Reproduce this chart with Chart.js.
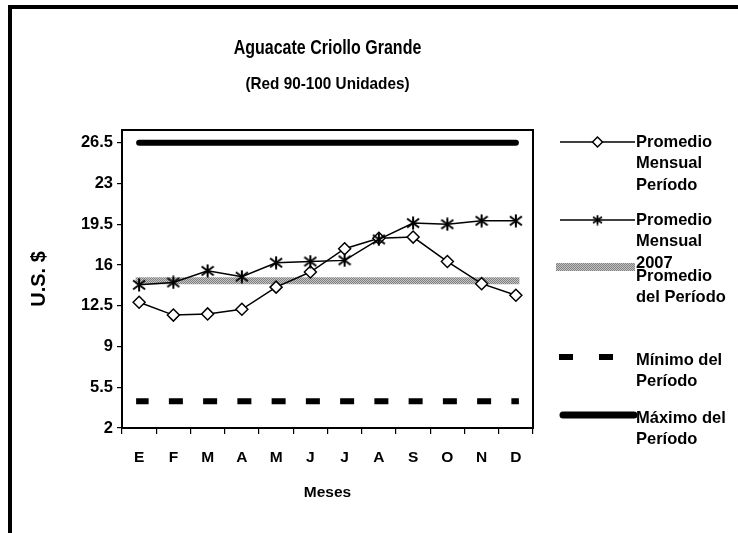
<!DOCTYPE html>
<html>
<head>
<meta charset="utf-8">
<script src="https://cdn.jsdelivr.net/npm/chart.js@4.4.0/dist/chart.umd.min.js"></script>
<style>
  html, body { margin: 0; padding: 0; background: #fff; }
  #wrap { position: absolute; left: 0; top: 0; width: 738px; height: 533px; }
  #frame { position: absolute; left: 8px; top: 5px; width: 730px; height: 528px;
           border-top: 4px solid #000; border-left: 4px solid #000; box-sizing: border-box; pointer-events: none; }
</style>
</head>
<body>
<div id="wrap"><canvas id="chart" width="738" height="533"></canvas></div>
<div id="frame"></div>
<script>
// datos
var meses = ['E', 'F', 'M', 'A', 'M', 'J', 'J', 'A', 'S', 'O', 'N', 'D'];
var promMensualPeriodo = [12.8, 11.7, 11.8, 12.2, 14.1, 15.4, 17.4, 18.3, 18.4, 16.3, 14.4, 13.4];
var promMensual2007 = [14.3, 14.5, 15.5, 15.0, 16.2, 16.3, 16.4, 18.2, 19.6, 19.5, 19.8, 19.8];
var promedioPeriodo = [14.65, 14.65, 14.65, 14.65, 14.65, 14.65, 14.65, 14.65, 14.65, 14.65, 14.65, 14.65];
var minimoPeriodo = [4.3, 4.3, 4.3, 4.3, 4.3, 4.3, 4.3, 4.3, 4.3, 4.3, 4.3, 4.3];
var maximoPeriodo = [26.5, 26.5, 26.5, 26.5, 26.5, 26.5, 26.5, 26.5, 26.5, 26.5, 26.5, 26.5];
var yTicks = [2, 5.5, 9, 12.5, 16, 19.5, 23, 26.5];
var leyenda = [
  ['Promedio', 'Mensual', 'Período'],
  ['Promedio', 'Mensual', '2007'],
  ['Promedio', 'del Período'],
  ['Mínimo del', 'Período'],
  ['Máximo del', 'Período']
];
var titulo = 'Aguacate Criollo Grande';
var subtitulo = '(Red 90-100 Unidades)';

var FONT = "'Liberation Sans', Arial, sans-serif";
Chart.defaults.font.family = FONT;
Chart.defaults.color = '#000';

// marcador asterisco (6 brazos)
function makeStar(s, lw) {
  var c = document.createElement('canvas');
  c.width = s; c.height = s;
  var g = c.getContext('2d');
  g.strokeStyle = '#000';
  g.lineWidth = lw;
  g.beginPath();
  g.moveTo(s / 2, 0.5); g.lineTo(s / 2, s - 0.5);
  g.moveTo(1, 2.5); g.lineTo(s - 1, s - 2.5);
  g.moveTo(1, s - 2.5); g.lineTo(s - 1, 2.5);
  g.stroke();
  return c;
}
var star = makeStar(14, 2);
var starSmall = makeStar(11, 1.8);

var ctx = document.getElementById('chart').getContext('2d');

// trama gris de la banda
var pc = document.createElement('canvas');
pc.width = 2; pc.height = 2;
var pg = pc.getContext('2d');
pg.fillStyle = '#c4c4c4'; pg.fillRect(0, 0, 2, 2);
pg.fillStyle = '#808080'; pg.fillRect(0, 0, 1, 1); pg.fillRect(1, 1, 1, 1);
var bandPattern = ctx.createPattern(pc, 'repeat');

// texto estrecho (el titulo del original se ve comprimido)
function narrowText(c, t, x, y, sx) {
  c.save();
  c.translate(x, y);
  c.scale(sx, 1);
  c.fillText(t, 0, 0);
  c.restore();
}

var decoPlugin = {
  id: 'deco',
  afterDraw: function (chart) {
    var c = chart.ctx, a = chart.chartArea;
    c.save();
    // marco del area de trazado
    c.strokeStyle = '#000';
    c.lineWidth = 2;
    c.strokeRect(a.left, a.top, a.right - a.left, a.bottom - a.top);

    // titulos
    var cx = (a.left + a.right) / 2;
    c.fillStyle = '#000';
    c.textAlign = 'center';
    c.textBaseline = 'middle';
    c.font = 'bold 20px ' + FONT;
    narrowText(c, titulo, cx, 48, 0.8);
    c.font = 'bold 17px ' + FONT;
    narrowText(c, subtitulo, cx, 84, 0.9);

    // leyenda
    var x0 = 560, x1 = 635, tx = 636;
    var textY = [142, 220, 276, 360, 418];
    var sampleY = [142, 220, 267, 357, 415];
    c.textAlign = 'left';
    c.font = 'bold 16.5px ' + FONT;
    leyenda.forEach(function (lines, i) {
      var y = sampleY[i];
      c.save();
      if (i === 0 || i === 1) {
        c.strokeStyle = '#000'; c.lineWidth = 1.5;
        c.beginPath(); c.moveTo(x0, y); c.lineTo(x1, y); c.stroke();
        var mx = (x0 + x1) / 2;
        if (i === 0) {
          c.fillStyle = '#fff';
          c.beginPath();
          c.moveTo(mx - 5, y); c.lineTo(mx, y - 5); c.lineTo(mx + 5, y); c.lineTo(mx, y + 5); c.closePath();
          c.fill(); c.stroke();
        } else {
          c.drawImage(starSmall, mx - 5.5, y - 5.5);
        }
      } else if (i === 2) {
        c.strokeStyle = bandPattern; c.lineWidth = 8;
        c.beginPath(); c.moveTo(x0 - 4, y); c.lineTo(x1, y); c.stroke();
      } else if (i === 3) {
        c.fillStyle = '#000';
        c.fillRect(559, y - 3, 14, 6);
        c.fillRect(599, y - 3, 14, 6);
      } else {
        c.strokeStyle = '#000'; c.lineWidth = 7; c.lineCap = 'round';
        c.beginPath(); c.moveTo(x0 + 3, y); c.lineTo(x1 - 1, y); c.stroke();
      }
      c.restore();
      c.fillStyle = '#000';
      lines.forEach(function (t, k) {
        c.fillText(t, tx, textY[i] + k * 21.5);
      });
    });
    c.restore();
  }
};

var chart = new Chart(ctx, {
  type: 'line',
  data: {
    labels: meses,
    datasets: [
      {
        label: leyenda[0].join(' '),
        data: promMensualPeriodo,
        borderColor: '#000',
        borderWidth: 1.5,
        pointStyle: 'rectRot',
        pointRadius: 6,
        pointBorderWidth: 1.5,
        pointBackgroundColor: '#fff',
        pointBorderColor: '#000',
        tension: 0,
        order: 2
      },
      {
        label: leyenda[1].join(' '),
        data: promMensual2007,
        borderColor: '#000',
        borderWidth: 1.5,
        pointStyle: star,
        pointRadius: 7,
        tension: 0,
        order: 1
      },
      {
        label: leyenda[2].join(' '),
        data: promedioPeriodo,
        borderColor: bandPattern,
        borderWidth: 7,
        borderCapStyle: 'square',
        pointRadius: 0,
        order: 5
      },
      {
        label: leyenda[3].join(' '),
        data: minimoPeriodo,
        borderColor: '#000',
        borderWidth: 6,
        borderDash: [8, 26.25],
        borderDashOffset: 1.5,
        borderCapStyle: 'square',
        pointRadius: 0,
        order: 4
      },
      {
        label: leyenda[4].join(' '),
        data: maximoPeriodo,
        borderColor: '#000',
        borderWidth: 6,
        borderCapStyle: 'round',
        pointRadius: 0,
        order: 3
      }
    ]
  },
  options: {
    responsive: false,
    animation: false,
    events: [],
    layout: { padding: { left: 20, right: 205, top: 130, bottom: 20 } },
    plugins: {
      legend: { display: false },
      title: { display: false },
      tooltip: { enabled: false }
    },
    scales: {
      x: {
        offset: true,
        grid: { display: true, offset: true, drawOnChartArea: false, tickLength: 6, color: '#000', lineWidth: 1.2 },
        border: { display: true, color: '#000', width: 2 },
        ticks: { color: '#000', font: { size: 15.5, weight: 'bold' }, padding: 14, maxRotation: 0, autoSkip: false },
        title: { display: true, text: 'Meses', color: '#000', font: { size: 15.5, weight: 'bold' }, padding: { top: 0, bottom: 11 } },
        afterFit: function (s) { s.height = 85; }
      },
      y: {
        min: 2,
        max: 27.6,
        afterBuildTicks: function (s) { s.ticks = yTicks.map(function (v) { return { value: v }; }); },
        grid: { display: true, drawOnChartArea: false, tickLength: 5, color: '#000', lineWidth: 1.2 },
        border: { display: true, color: '#000', width: 2 },
        ticks: { color: '#000', font: { size: 16.5, weight: 'bold' }, padding: 4,
          callback: function (v) { return String(v); } },
        title: { display: true, text: 'U.S. $', color: '#000', font: { size: 20, weight: 'bold' }, padding: { top: 7, bottom: 0 } },
        afterFit: function (s) { s.width = 102; }
      }
    }
  },
  plugins: [decoPlugin]
});
</script>
</body>
</html>
